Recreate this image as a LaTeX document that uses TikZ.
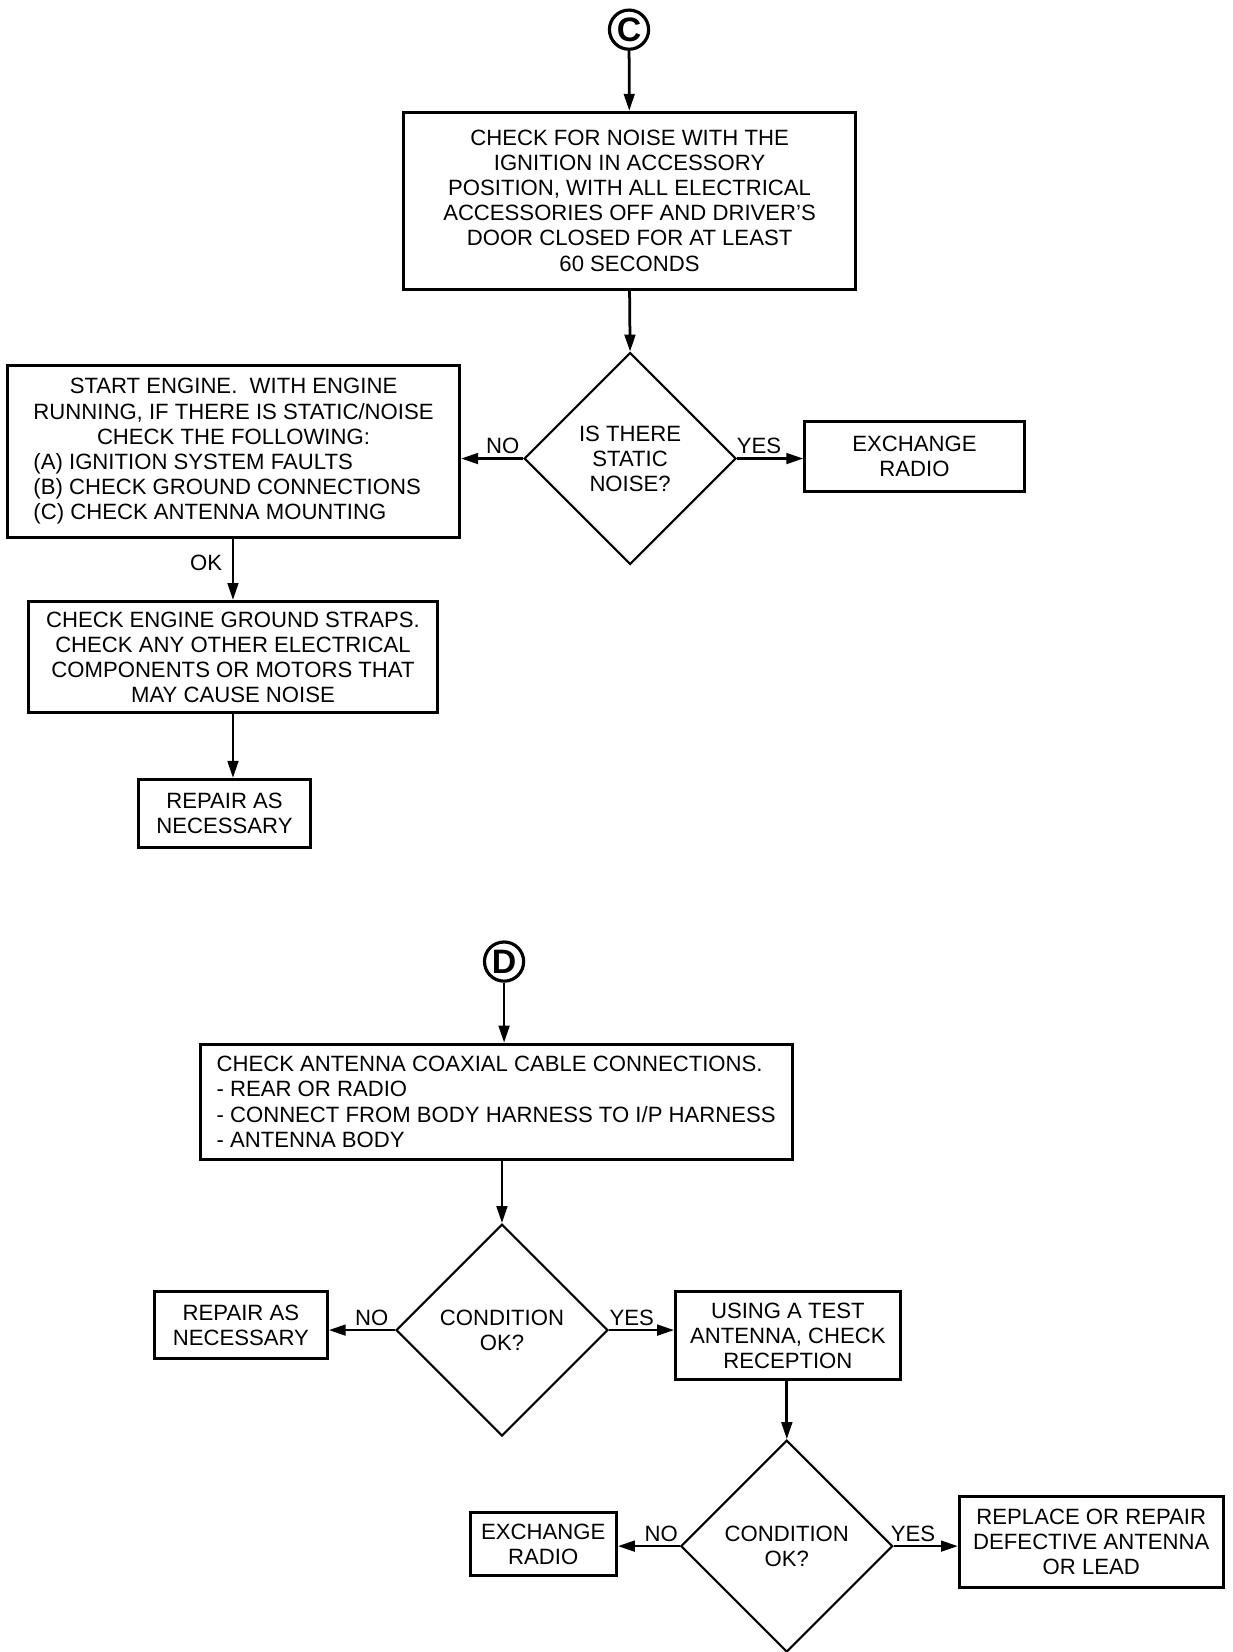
\documentclass[tikz,border=0pt]{standalone}
\usepackage{fontspec}
\setmainfont{Liberation Sans}
\usetikzlibrary{shapes.geometric,arrows.meta}
\begin{document}
\begin{tikzpicture}[x=0.5pt,y=-0.5pt,
  every node/.style={font=\fontsize{10.45}{11.85}\selectfont},
  box/.style={draw,line width=1.4pt,inner sep=0pt,align=center},
  dia/.style={draw,diamond,line width=1pt,inner sep=0pt,minimum width=100pt,minimum height=100pt,align=center},
  circ/.style={draw,circle,line width=1.5pt,minimum size=18.5pt,inner sep=0pt,font=\fontsize{16}{16}\selectfont\bfseries},
  arr/.style={line width=1.3pt,-{Triangle[length=8pt,width=5pt]}},
  lbl/.style={inner sep=1.5pt}
]
\useasboundingbox (0,0) rectangle (1163.4,1560);
% ---------- C ----------
\node[circ] (cC) at (594,28) {C};
\node[box,minimum width=213.5pt,minimum height=83.5pt] (b1) at (594.5,189.5)
  {CHECK FOR NOISE WITH THE\\IGNITION IN ACCESSORY\\POSITION, WITH ALL ELECTRICAL\\ACCESSORIES OFF AND DRIVER'S\\DOOR CLOSED FOR AT LEAST\\60 SECONDS};
\node[dia] (d1) at (595,433) {IS THERE\\STATIC\\NOISE?};
\node[box,minimum width=103.5pt,minimum height=33pt] (ex1) at (863.5,431) {EXCHANGE\\RADIO};
\node[box,minimum width=213.5pt,minimum height=81.5pt] (b2) at (220.5,426.5)
  {\begin{tabular}{@{}l@{}}
   \multicolumn{1}{@{}c@{}}{START ENGINE.\ \ WITH ENGINE}\\
   \multicolumn{1}{@{}c@{}}{RUNNING, IF THERE IS STATIC/NOISE}\\
   \multicolumn{1}{@{}c@{}}{CHECK THE FOLLOWING:}\\
   (A) IGNITION SYSTEM FAULTS\\
   (B) CHECK GROUND CONNECTIONS\\
   (C) CHECK ANTENNA MOUNTING
   \end{tabular}};
\node[box,minimum width=193pt,minimum height=52.5pt] (b3) at (220,620.5)
  {CHECK ENGINE GROUND STRAPS.\\CHECK ANY OTHER ELECTRICAL\\COMPONENTS OR MOTORS THAT\\MAY CAUSE NOISE};
\node[box,minimum width=81pt,minimum height=32pt] (b4) at (212,768) {REPAIR AS\\NECESSARY};
\draw[arr] (cC) -- (b1);
\draw[arr] (b1.south) -- (d1.north);
\draw[arr] (d1.west) -- node[lbl,pos=0.33,above]{NO} (d1.west -| b2.east);
\draw[arr] (d1.east) -- node[lbl,pos=0.33,above]{YES} (d1.east -| ex1.west);
\draw[arr] (b3.north |- b2.south) -- node[lbl,pos=0.38,left=3pt]{OK} (b3.north);
\draw[arr] (b3.south) -- (b3.south |- b4.north);
% ---------- D ----------
\node[circ] (cD) at (476,908) {D};
\node[box,minimum width=279.5pt,minimum height=54.5pt,align=left] (b5) at (468.5,1040.5)
  {CHECK ANTENNA COAXIAL CABLE CONNECTIONS.\\- REAR OR RADIO\\- CONNECT FROM BODY HARNESS TO I/P HARNESS\\- ANTENNA BODY};
\node[dia] (d2) at (474,1256) {CONDITION\\OK?};
\node[box,minimum width=81.5pt,minimum height=31.5pt] (b6) at (227.5,1251.5) {REPAIR AS\\NECESSARY};
\node[box,minimum width=106pt,minimum height=41.5pt] (b7) at (744,1261.5) {USING A TEST\\ANTENNA, CHECK\\RECEPTION};
\node[dia] (d3) at (743,1460) {CONDITION\\OK?};
\node[box,minimum width=69pt,minimum height=30pt] (b8) at (513,1458) {EXCHANGE\\RADIO};
\node[box,minimum width=124.5pt,minimum height=43pt] (b9) at (1030.5,1456) {REPLACE OR REPAIR\\DEFECTIVE ANTENNA\\OR LEAD};
\draw[arr] (cD) -- (cD |- b5.north);
\draw[arr] (d2.north |- b5.south) -- (d2.north);
\draw[arr] (d2.west) -- node[lbl,pos=0.35,above]{NO} (d2.west -| b6.east);
\draw[arr] (d2.east) -- node[lbl,pos=0.35,above]{YES} (d2.east -| b7.west);
\draw[arr] (d3.north |- b7.south) -- (d3.north);
\draw[arr] (d3.west) -- node[lbl,pos=0.3,above]{NO} (d3.west -| b8.east);
\draw[arr] (d3.east) -- node[lbl,pos=0.3,above]{YES} (d3.east -| b9.west);
\end{tikzpicture}
\end{document}
